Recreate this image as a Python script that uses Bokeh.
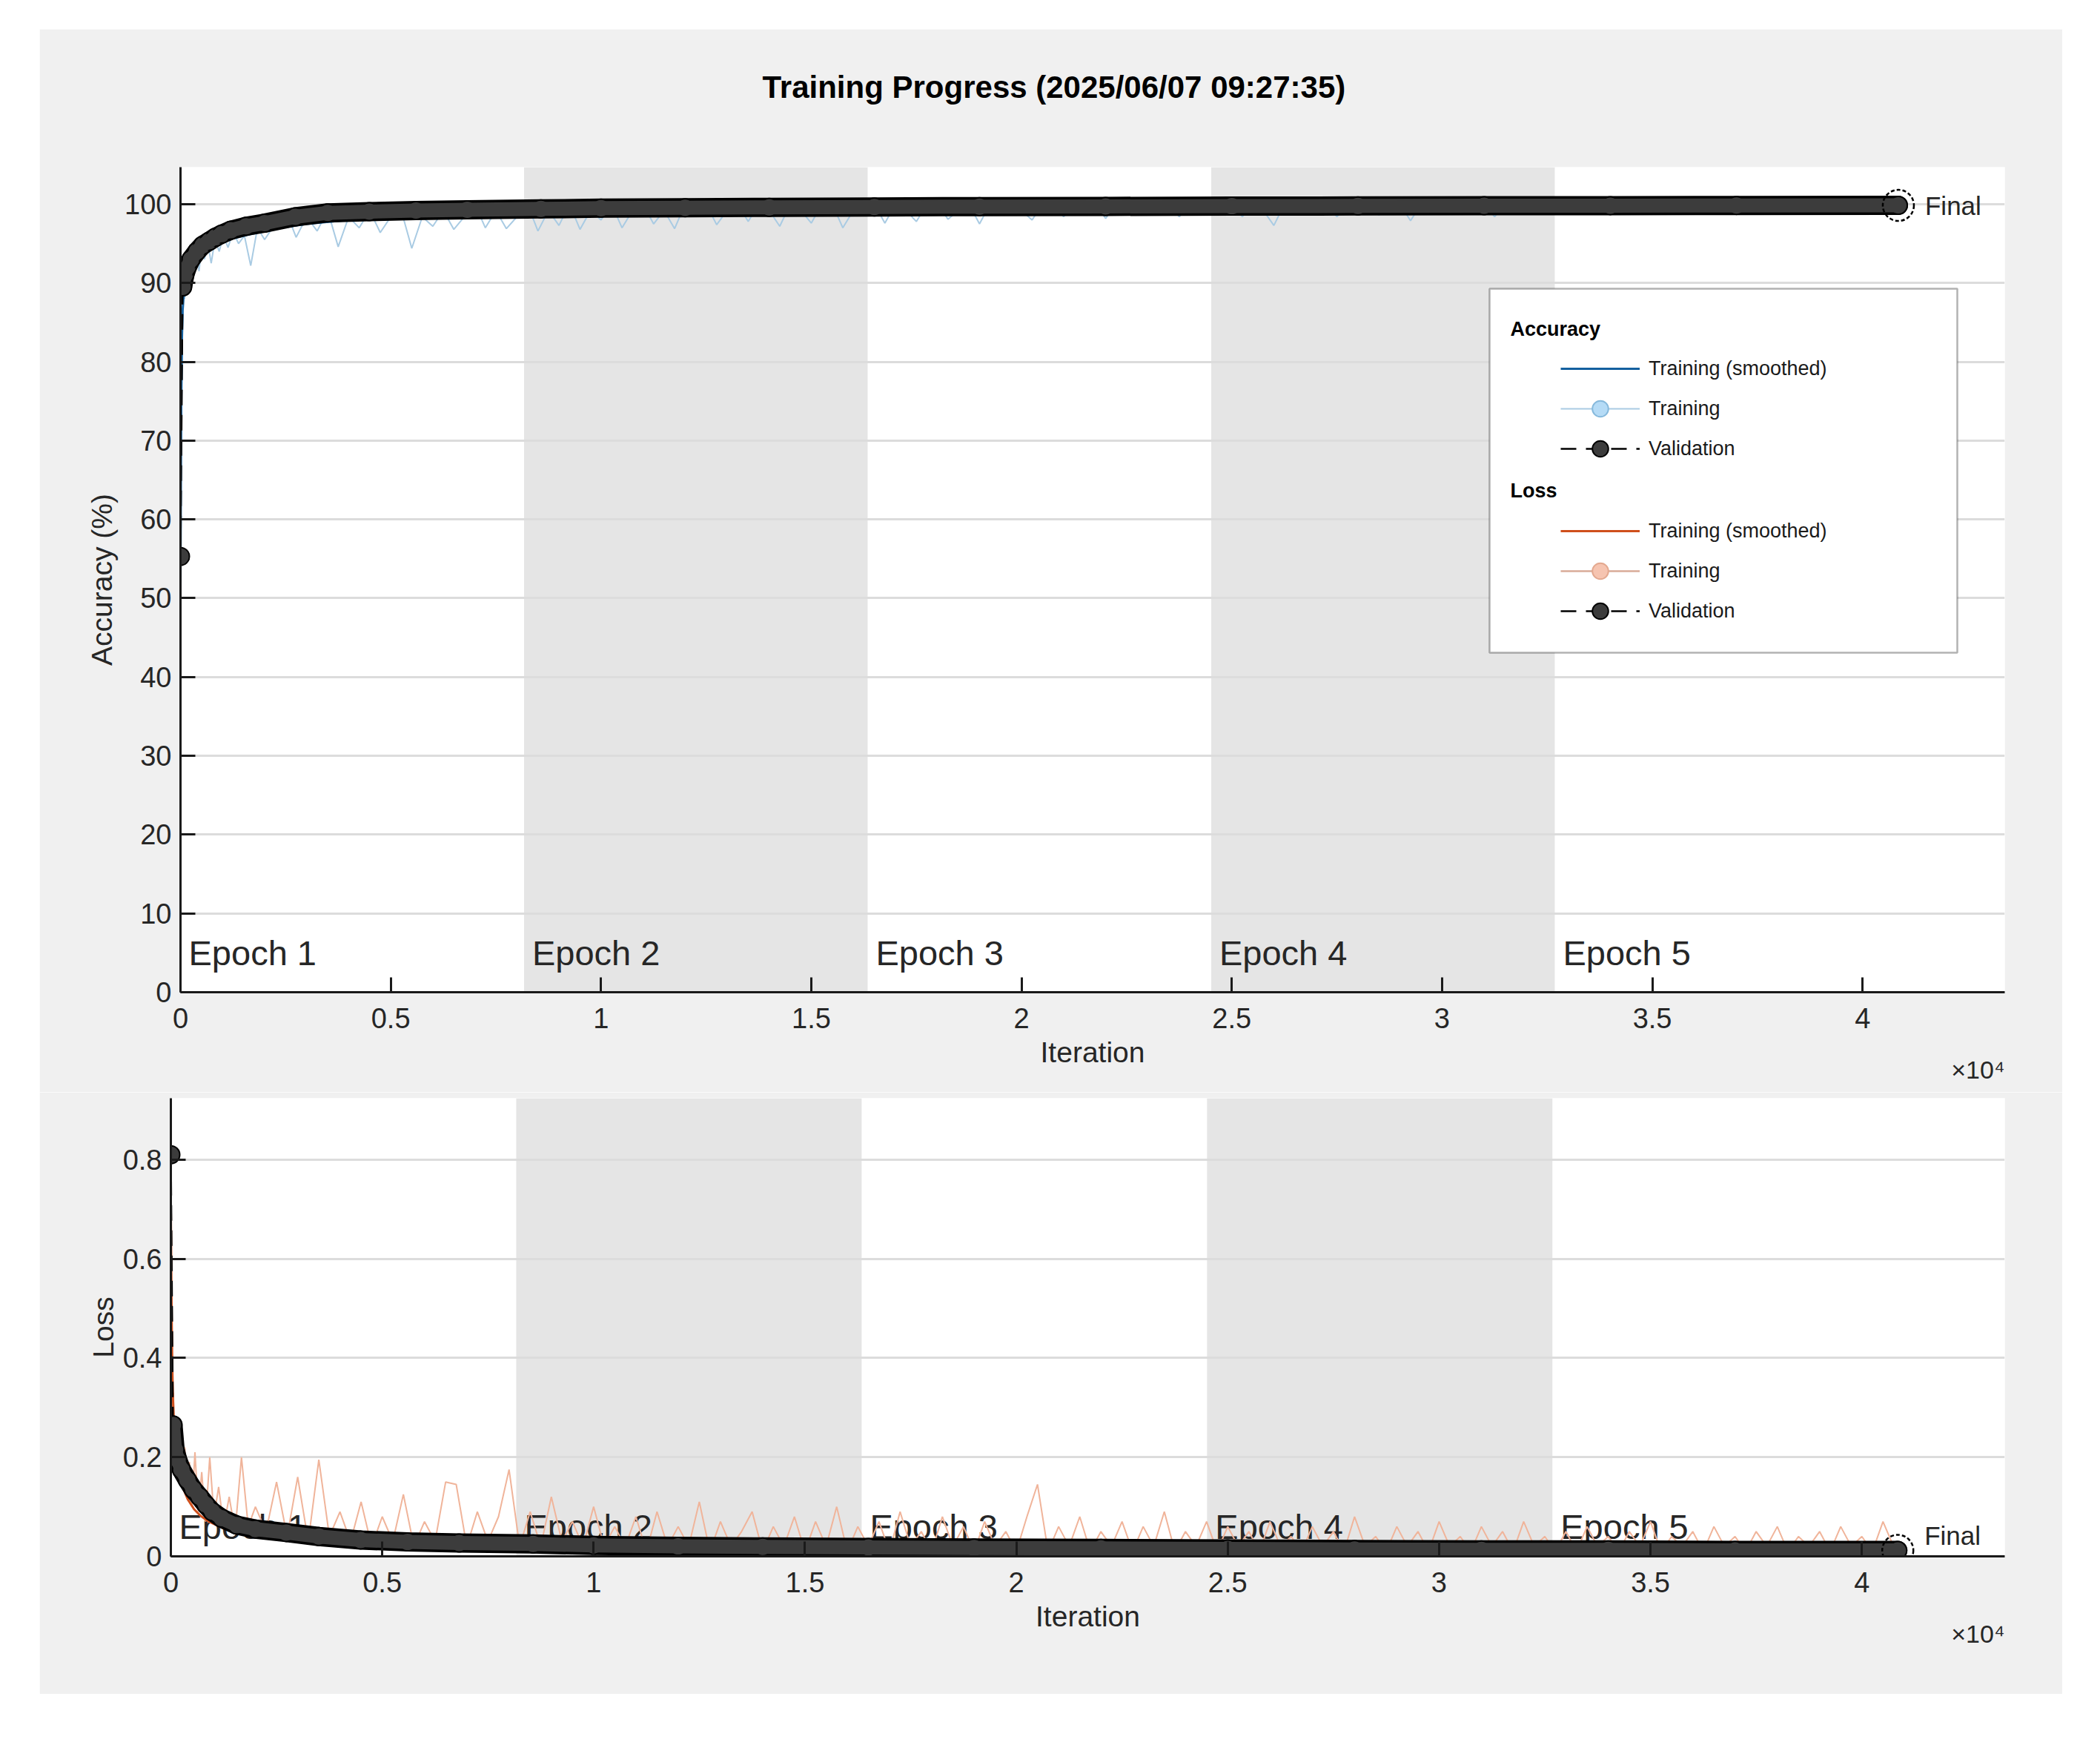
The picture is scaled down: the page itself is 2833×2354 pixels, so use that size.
from bokeh.plotting import figure
from bokeh.models import (Range1d, FixedTicker, BoxAnnotation, Label, Legend, LegendItem, Title)
from bokeh.layouts import column
from bokeh.embed import file_html
from bokeh.resources import INLINE
from bokeh.core.properties import value

# ---------------- data ----------------
TITLE = "Training Progress (2025/06/07 09:27:35)"
EPOCH_LEN = 8170
EPOCH_STARTS = [0, 8170, 16340, 24510, 32680]
EPOCH_LABELS = ["Epoch 1", "Epoch 2", "Epoch 3", "Epoch 4", "Epoch 5"]
SHADED_EPOCHS = [1, 3]
FINAL_IT = 40850
X_MAX = 43380
X_TICKS = [0, 5000, 10000, 15000, 20000, 25000, 30000, 35000, 40000]
X_TICK_LABELS = ["0", "0.5", "1", "1.5", "2", "2.5", "3", "3.5", "4"]
X_SCALE_NOTE = "×10⁴"
ACC_TICKS = [0, 10, 20, 30, 40, 50, 60, 70, 80, 90, 100]
LOSS_TICKS = [0, 0.2, 0.4, 0.6, 0.8]
LOSS_TICK_LABELS = ["0", "0.2", "0.4", "0.6", "0.8"]
ACC_MAX = 104.7
LOSS_MAX = 0.924

# raw (per-iteration) training values, sampled
RAW_IT_EARLY = [0, 10, 20, 30, 45, 60, 80, 100, 130, 160, 200, 240, 280, 330, 380,
                440, 500, 570, 650, 730, 820, 920, 1020, 1130, 1250, 1380, 1520, 1670, 1830, 2000]
RAW_IT = RAW_IT_EARLY + list(range(2250, 40751, 250)) + [FINAL_IT]

RAW_ACC = [
    50, 62, 70, 78, 84, 86, 89, 88, 91, 90.5, 92, 91, 93, 92, 94,
    91.5, 94.5, 93, 95, 92.5, 95.5, 94, 96, 94.5, 96.5, 95, 96, 92.2, 97, 95.5,
    # epoch 1 (rest)
    97.5, 99.2, 95.8, 98.4, 96.6, 99.2, 94.6, 98.4, 97.0, 99.2, 96.4, 98.4, 99.2, 94.4,
    98.4, 97.2, 99.2, 96.8, 98.4, 100, 97.0, 99.2, 96.9, 98.4,
    # epoch 2
    100, 96.6, 99.2, 97.3, 100, 96.8, 99.2, 98.0, 100, 97.0, 99.2, 100, 97.5, 99.2, 96.9,
    100, 98.4, 100, 97.4, 99.2, 100, 97.8, 100, 99.2, 97.2, 100, 99.2, 97.6, 100, 100,
    97.0, 99.2, 100,
    # epoch 3
    100, 97.6, 100, 99.2, 97.8, 100, 100, 98.1, 99.2, 100, 97.5, 100, 98.6, 100, 99.2,
    98.0, 100, 100, 98.4, 100, 99.2, 100, 98.2, 100, 100, 98.6, 100, 99.2, 100, 98.4,
    100, 100, 98.8,
    # epoch 4
    100, 100, 98.4, 100, 99.2, 97.3, 100, 100, 98.8, 100, 100, 98.4, 100, 99.2, 100,
    98.6, 100, 100, 97.9, 100, 100, 99.2, 100, 98.7, 100, 100, 98.4, 100, 100, 99.2,
    100, 98.9, 100,
    # epoch 5
    100, 100, 99.2, 100, 100, 99.2, 100, 100, 100, 99.2, 100, 100, 100, 99.2, 100,
    100, 100, 100, 99.2, 100, 100, 100, 100, 99.2, 100, 100, 100, 100, 100, 99.2,
    100, 100,
    100,
]

RAW_LOSS = [
    0.70, 0.55, 0.42, 0.38, 0.30, 0.33, 0.24, 0.27, 0.20, 0.23, 0.16, 0.21, 0.14, 0.22, 0.12,
    0.19, 0.10, 0.21, 0.09, 0.17, 0.07, 0.20, 0.08, 0.14, 0.06, 0.12, 0.05, 0.20, 0.06, 0.10,
    # epoch 1 (rest)
    0.05, 0.15, 0.04, 0.16, 0.03, 0.195, 0.04, 0.09, 0.03, 0.11, 0.02, 0.08, 0.03, 0.125,
    0.02, 0.07, 0.03, 0.15, 0.145, 0.02, 0.09, 0.03, 0.08, 0.175,
    # epoch 2
    0.02, 0.09, 0.02, 0.12, 0.03, 0.07, 0.02, 0.10, 0.02, 0.06, 0.02, 0.08, 0.01, 0.09, 0.02,
    0.06, 0.02, 0.11, 0.01, 0.07, 0.02, 0.05, 0.09, 0.01, 0.06, 0.02, 0.08, 0.01, 0.07, 0.02,
    0.10, 0.01, 0.06,
    # epoch 3
    0.02, 0.07, 0.01, 0.09, 0.02, 0.05, 0.01, 0.08, 0.02, 0.06, 0.01, 0.07, 0.02, 0.05, 0.01,
    0.08, 0.145, 0.01, 0.06, 0.02, 0.08, 0.01, 0.05, 0.02, 0.07, 0.01, 0.06, 0.02, 0.09, 0.01,
    0.05, 0.02, 0.07,
    # epoch 4
    0.01, 0.06, 0.02, 0.05, 0.01, 0.07, 0.02, 0.04, 0.01, 0.06, 0.02, 0.05, 0.01, 0.08, 0.02,
    0.04, 0.01, 0.06, 0.02, 0.05, 0.01, 0.07, 0.02, 0.04, 0.01, 0.06, 0.02, 0.05, 0.01, 0.07,
    0.02, 0.04, 0.01,
    # epoch 5
    0.05, 0.01, 0.06, 0.02, 0.04, 0.01, 0.05, 0.02, 0.07, 0.01, 0.04, 0.02, 0.05, 0.01, 0.06,
    0.02, 0.04, 0.01, 0.05, 0.02, 0.06, 0.01, 0.04, 0.02, 0.05, 0.01, 0.06, 0.02, 0.04, 0.01,
    0.07, 0.02,
    0.01,
]

# smoothed training curves
SM_IT = [0, 10, 20, 35, 50, 75, 100, 150, 200, 300, 400, 550, 700, 900, 1200, 1500, 2000,
         2500, 3000, 4000, 5000, 6000, 8000, 10000, 12000, 16000, 20000, 24000, 28000,
         32000, 36000, 40850]
SM_ACC = [51, 66, 76, 83, 86.5, 88.5, 89.6, 90.8, 91.6, 92.3, 93.0, 93.8, 94.3, 94.9, 95.6,
          96.0, 96.6, 97.1, 97.5, 98.0, 98.4, 98.7, 99.0, 99.2, 99.35, 99.5, 99.6, 99.65,
          99.7, 99.75, 99.8, 99.85]
SM_LOSS = [0.70, 0.58, 0.48, 0.38, 0.32, 0.26, 0.23, 0.19, 0.165, 0.135, 0.115, 0.095, 0.082,
           0.07, 0.058, 0.05, 0.042, 0.037, 0.033, 0.028, 0.025, 0.022, 0.019, 0.017, 0.015,
           0.013, 0.012, 0.011, 0.010, 0.009, 0.008, 0.007]

# validation
VAL_IT = [0, 50, 100, 160, 250, 390, 530, 680, 830, 980, 1200, 1560, 2000, 2730, 3500, 4490,
          5600, 6820, 8570, 10000, 12000, 14000, 16500, 19000, 22000, 25000, 28000, 31000,
          34000, 37000, 40850]
VAL_ACC = [55.3, 89.5, 91.0, 92.0, 93.0, 94.0, 94.8, 95.3, 95.8, 96.2, 96.7, 97.2, 97.6, 98.4,
           98.9, 99.05, 99.2, 99.3, 99.4, 99.5, 99.55, 99.6, 99.65, 99.7, 99.72, 99.75, 99.78,
           99.8, 99.82, 99.84, 99.85]
VAL_LOSS = [0.81, 0.265, 0.215, 0.195, 0.175, 0.154, 0.135, 0.12, 0.104, 0.09, 0.077, 0.063,
            0.055, 0.048, 0.04, 0.033, 0.029, 0.027, 0.025, 0.022, 0.02, 0.019, 0.018, 0.017,
            0.016, 0.015, 0.014, 0.013, 0.013, 0.012, 0.012]

# ---------------- style ----------------
FONT = "Liberation Sans"
TXT = "#262626"
BG = "#f0f0f0"
SHADE = "#e5e5e5"
GRID = "#dcdcdc"
ACC_RAW_C = "#a9cbe3"
ACC_SM_C = "#14609f"
LOSS_RAW_C = "#f0b49a"
LOSS_SM_C = "#cf4f1c"
VAL_FILL = "#3c3c3c"


def make_fig(fw, fh, y_max, left, top, bottom, y_ticks, y_label, ylab_standoff,
             y_overrides=None):
    p = figure(frame_width=fw, frame_height=fh,
               x_range=Range1d(0, X_MAX), y_range=Range1d(0, y_max),
               output_backend="svg", toolbar_location=None,
               min_border_left=left, min_border_right=78, min_border_top=top,
               min_border_bottom=bottom, border_fill_color=BG,
               background_fill_color="white", outline_line_color=None)
    p.xaxis.ticker = FixedTicker(ticks=X_TICKS)
    p.xaxis.major_label_overrides = dict(zip(X_TICKS, X_TICK_LABELS))
    p.yaxis.ticker = FixedTicker(ticks=y_ticks)
    if y_overrides:
        p.yaxis.major_label_overrides = y_overrides
    p.xaxis.axis_label = "Iteration"
    p.yaxis.axis_label = y_label
    for ax in (p.xaxis[0], p.yaxis[0]):
        ax.axis_line_width = 3
        ax.axis_line_color = "#1a1a1a"
        ax.major_tick_line_width = 3
        ax.major_tick_line_color = "#1a1a1a"
        ax.major_tick_in = 20
        ax.major_tick_out = 0
        ax.minor_tick_line_color = None
        ax.major_label_text_font = FONT
        ax.major_label_text_font_size = "38px"
        ax.major_label_text_color = TXT
        ax.axis_label_text_font = FONT
        ax.axis_label_text_font_size = "39px"
        ax.axis_label_text_font_style = "normal"
        ax.axis_label_text_color = TXT
    p.xaxis.major_label_standoff = 21
    p.xaxis.axis_label_standoff = 8
    p.yaxis.major_label_standoff = 12
    p.yaxis.axis_label_standoff = ylab_standoff
    p.xgrid.grid_line_color = None
    p.ygrid.ticker = FixedTicker(ticks=y_ticks)
    p.ygrid.grid_line_color = GRID
    p.ygrid.grid_line_width = 3
    for i in SHADED_EPOCHS:
        p.add_layout(BoxAnnotation(left=EPOCH_STARTS[i], right=EPOCH_STARTS[i] + EPOCH_LEN,
                                   fill_color=SHADE, fill_alpha=1.0, line_color=None,
                                   level="image"))
    p.add_layout(Title(text=X_SCALE_NOTE, align="right", vertical_align="top",
                       text_font=FONT, text_font_size="34px", text_font_style="normal",
                       text_color=TXT, standoff=-40), "below")
    return p


def add_series(p, raw_y, sm_y, val_y, raw_c, sm_c, epoch_dy, final_dy,
               raw_mark_fill, raw_mark_line):
    p.text(x=EPOCH_STARTS, y=[0] * len(EPOCH_STARTS), text=EPOCH_LABELS, x_offset=11,
           y_offset=epoch_dy, text_font=value(FONT), text_font_size="47px", text_color=TXT,
           text_baseline="alphabetic", level="underlay")
    raw_line = p.line(RAW_IT, raw_y, line_color=raw_c, line_width=2)
    raw_mark = p.scatter([RAW_IT[-1]], [raw_y[-1]], size=20, fill_color=raw_mark_fill,
                         line_color=raw_mark_line, line_width=2)
    sm_line = p.line(SM_IT, sm_y, line_color=sm_c, line_width=3)
    val_dash = p.line(VAL_IT, val_y, line_color="black", line_width=2.5, line_dash="21 13")
    p.line(VAL_IT[1:], val_y[1:], line_color="black", line_width=26,
           line_join="round", line_cap="round")
    val_mark = p.scatter(VAL_IT, val_y, size=24, fill_color=VAL_FILL, line_color="black",
                         line_width=2)
    p.line(VAL_IT[1:], val_y[1:], line_color=VAL_FILL, line_width=19,
           line_join="round", line_cap="round")
    p.scatter([FINAL_IT], [val_y[-1]], size=42, fill_color=None, line_color="black",
              line_width=2.5, line_dash="5 3")
    p.text(x=[FINAL_IT], y=[val_y[-1]], text=["Final"], x_offset=36, y_offset=final_dy,
           text_font=value(FONT), text_font_size="35px", text_color=TXT,
           text_baseline="middle")
    return sm_line, raw_line, raw_mark, val_dash, val_mark


# ---------------- top: accuracy ----------------
p1 = make_fig(2461, 1113, ACC_MAX, 190, 186, 135, ACC_TICKS, "Accuracy (%)", 6)
# blank spacer (inner) then the main title (outer)
p1.add_layout(Title(text="\u00a0", text_font=FONT, text_font_size="10px",
                    text_color=BG, standoff=67), "above")
p1.add_layout(Title(text=TITLE, text_font=FONT, text_font_size="42px",
                    text_font_style="bold", text_color="black", align="left",
                    offset=785, standoff=10), "above")
acc_r = add_series(p1, RAW_ACC, SM_ACC, VAL_ACC, ACC_RAW_C, ACC_SM_C, -53, 0,
                   "#b5dbf6", "#86b9dc")

# hidden copies of the loss series, used only for the loss entries of the shared legend
lp_sm = p1.line(SM_IT, SM_LOSS, line_color=LOSS_SM_C, line_width=3, visible=False)
lp_raw = p1.line(RAW_IT, RAW_LOSS, line_color="#d8ab98", line_width=2.5, visible=False)
lp_rawm = p1.scatter([RAW_IT[-1]], [RAW_LOSS[-1]], fill_color="#f6c4b0",
                     line_color="#e3a88f", line_width=2, visible=False)
lp_vd = p1.line(VAL_IT, VAL_LOSS, line_color="black", line_width=2.5, line_dash="21 13",
                visible=False)
lp_vm = p1.scatter(VAL_IT, VAL_LOSS, fill_color=VAL_FILL, line_color="black", line_width=2,
                   visible=False)

p1.add_layout(BoxAnnotation(left=1766, right=2397, top=949, bottom=458,
                            left_units="screen", right_units="screen",
                            top_units="screen", bottom_units="screen",
                            fill_color="white", fill_alpha=1.0,
                            line_color="black", line_width=2.5))


def header(text, y):
    return Label(x=1794, y=y, x_units="screen", y_units="screen", text=text,
                 text_font=FONT, text_font_size="27px", text_font_style="bold",
                 text_color="black", text_baseline="middle")


def make_legend(items, x, y):
    return Legend(items=items, location=(x, y), orientation="vertical",
                  border_line_color=None, background_fill_alpha=0.0,
                  label_text_font=FONT, label_text_font_size="27px",
                  label_text_color="#1a1a1a", glyph_width=107, glyph_height=54,
                  label_height=54, label_standoff=12, spacing=0, padding=0, margin=0,
                  inactive_fill_alpha=0.0)


p1.add_layout(header("Accuracy", 895))
p1.add_layout(header("Loss", 677))
sm_l, raw_l, raw_m, vd_l, vm_l = acc_r
p1.add_layout(make_legend([
    LegendItem(label="Training (smoothed)", renderers=[sm_l]),
    LegendItem(label="Training", renderers=[raw_l, raw_m]),
    LegendItem(label="Validation", renderers=[vd_l, vm_l]),
], 1862, 706))
p1.add_layout(make_legend([
    LegendItem(label="Training (smoothed)", renderers=[lp_sm]),
    LegendItem(label="Training", renderers=[lp_raw, lp_rawm]),
    LegendItem(label="Validation", renderers=[lp_vd, lp_vm]),
], 1862, 487))

# ---------------- bottom: loss ----------------
p2 = make_fig(2474, 618, LOSS_MAX, 177, 8, 186, LOSS_TICKS, "Loss", 2,
              dict(zip(LOSS_TICKS, LOSS_TICK_LABELS)))
add_series(p2, RAW_LOSS, SM_LOSS, VAL_LOSS, LOSS_RAW_C, LOSS_SM_C, -40, -20,
           "#f6c4b0", "#e3a88f")

layout = column(p1, column(p2), spacing=0, margin=(39, 0, 0, 53))
open("out.html", "w").write(file_html(layout, INLINE))
